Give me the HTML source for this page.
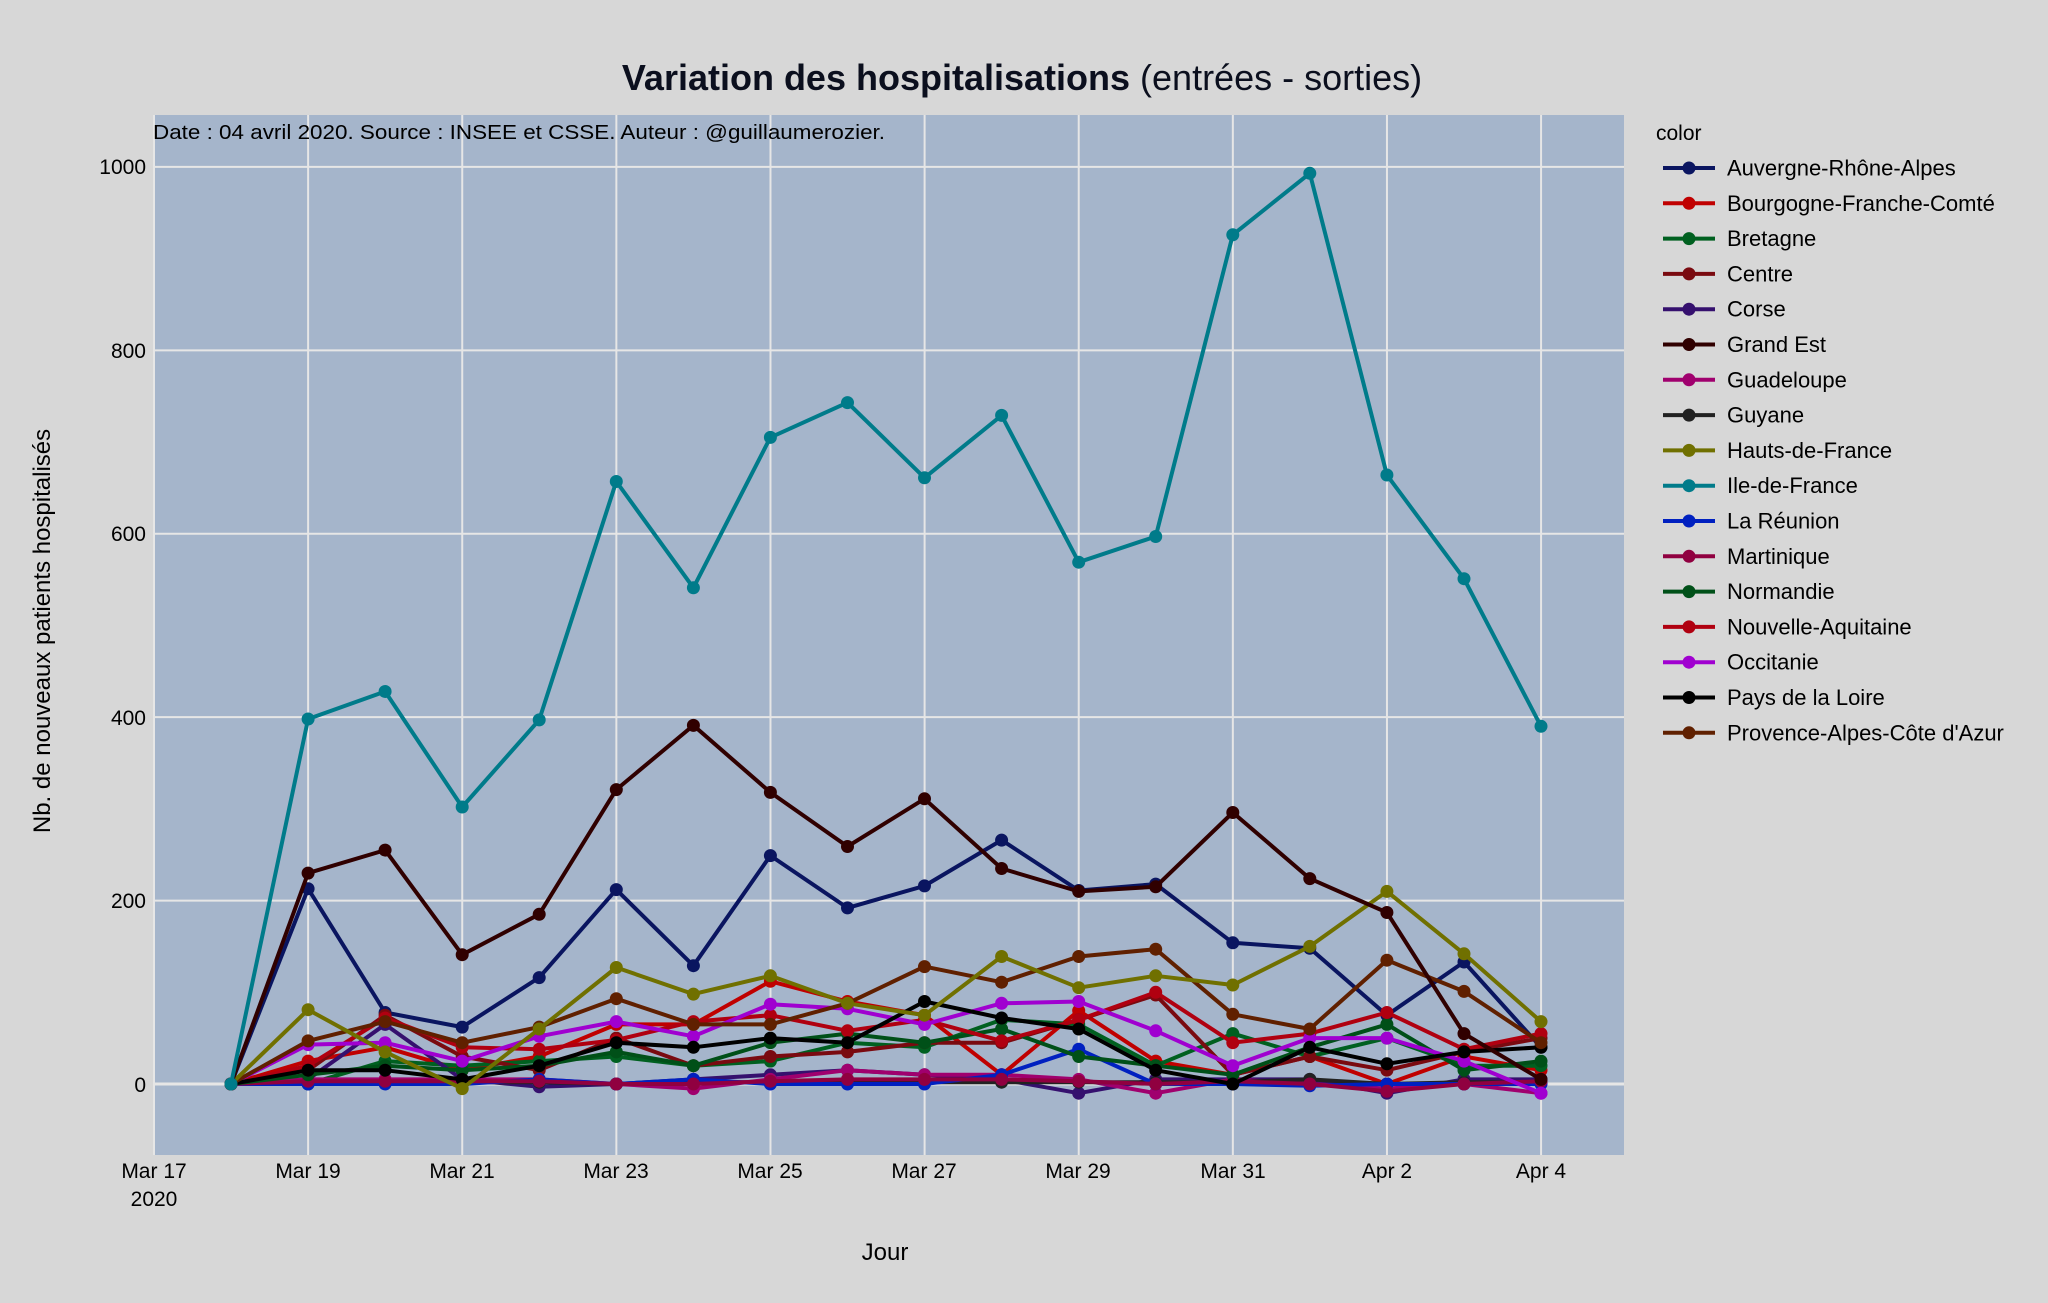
<!DOCTYPE html>
<html><head><meta charset="utf-8"><style>
html,body{margin:0;padding:0;background:#d7d7d7;}
svg{display:block;font-family:"Liberation Sans",sans-serif;}
</style></head><body>
<svg id="s" width="2048" height="1303" viewBox="0 0 2048 1303" xmlns="http://www.w3.org/2000/svg">
<rect width="2048" height="1303" fill="#d7d7d7"/>
<rect x="153" y="115" width="1471" height="1040" fill="#a5b5cb"/>
<g id="grid" stroke="#e6e6e6" stroke-width="2"></g>
<g id="series"></g>
<text x="1022" y="90" text-anchor="middle" font-size="36" fill="#0b0f1e"><tspan font-weight="bold">Variation des hospitalisations</tspan> (entrées - sorties)</text>
<text x="153" y="139" font-size="20" fill="#000" textLength="732" lengthAdjust="spacingAndGlyphs">Date : 04 avril 2020. Source : INSEE et CSSE. Auteur : @guillaumerozier.</text>
<g font-size="21" fill="#000" text-anchor="end">
<text x="146" y="174">1000</text><text x="146" y="358">800</text><text x="146" y="541">600</text><text x="146" y="725">400</text><text x="146" y="908">200</text><text x="146" y="1092">0</text>
</g>
<g font-size="21" fill="#000" text-anchor="middle">
<text x="154" y="1178">Mar 17</text><text x="154" y="1206">2020</text>
<text x="308" y="1178">Mar 19</text><text x="462" y="1178">Mar 21</text><text x="616" y="1178">Mar 23</text>
<text x="770" y="1178">Mar 25</text><text x="924" y="1178">Mar 27</text><text x="1078" y="1178">Mar 29</text>
<text x="1233" y="1178">Mar 31</text><text x="1387" y="1178">Apr 2</text><text x="1541" y="1178">Apr 4</text>
</g>
<text x="885" y="1260" font-size="24" text-anchor="middle" fill="#000">Jour</text>
<text transform="translate(50,631) rotate(-90)" font-size="24" text-anchor="middle" fill="#000">Nb. de nouveaux patients hospitalisés</text>
<text x="1656" y="140" font-size="21" fill="#000">color</text>
<g id="legend" font-size="22" fill="#000"></g>
</svg>
<script>
var X=function(d){return 231+d*77.06}, Y=function(v){return 1084-v*0.9171};
var g=document.getElementById('grid'),h='';
for(var i=0;i<=9;i++){var x=154+i*154.12;h+='<line x1="'+x+'" y1="115" x2="'+x+'" y2="1155"/>';}
for(var v=0;v<=1000;v+=200){h+='<line x1="153" y1="'+Y(v)+'" x2="1624" y2="'+Y(v)+'"'+(v==0?' stroke-width="3"':'')+'/>';}
g.innerHTML=h;
var S=[
["#0a1560",[0,213,78,62,116,212,129,249,192,216,266,211,218,154,148,75,133,40]],
["#c00000",[0,25,40,15,30,65,65,112,90,75,10,80,25,10,30,0,30,15]],
["#006020",[0,0,25,20,25,30,20,25,45,40,70,65,20,55,30,50,20,20]],
["#7a0a10",[0,15,75,30,15,50,20,30,35,45,45,70,97,10,30,15,35,50]],
["#35106e",[0,5,65,5,-3,0,5,10,15,10,5,-10,5,5,5,-10,5,5]],
["#a0006e",[0,5,5,5,5,0,-5,5,15,10,10,5,-10,5,0,-5,0,-10]],
["#222222",[0,2,2,2,2,0,2,2,2,2,2,2,2,2,5,0,2,2]],
["#0020c0",[0,0,0,0,5,0,5,0,0,0,10,38,0,0,-2,0,0,0]],
["#900040",[0,3,3,3,3,0,0,3,5,5,5,3,0,3,0,-8,0,3]],
["#005018",[0,10,20,15,20,35,20,45,55,45,60,30,20,10,40,65,15,25]],
["#b00010",[0,20,72,40,38,48,68,75,58,70,47,70,100,45,55,78,38,55]],
["#a000d0",[0,43,45,25,52,68,52,87,82,65,88,90,58,20,50,50,25,-10]],
["#000000",[0,15,15,5,20,45,40,50,45,90,72,60,15,0,40,22,35,40]],
["#602000",[0,47,68,45,62,93,65,65,88,128,111,139,147,76,60,135,101,45]],
["#707000",[0,81,35,-5,60,127,98,118,88,75,139,105,118,108,150,210,142,68]],
["#300000",[0,230,255,141,185,321,391,318,259,311,235,210,215,296,224,187,55,5]],
["#007b8a",[0,398,428,302,397,657,541,705,743,661,729,569,597,926,993,664,551,390]]
];
var out='';
S.forEach(function(s){var p=s[1].map(function(v,d){return X(d).toFixed(1)+','+Y(v).toFixed(1)}).join(' ');
out+='<polyline points="'+p+'" fill="none" stroke="'+s[0]+'" stroke-width="4" stroke-linejoin="round"/>';
s[1].forEach(function(v,d){out+='<circle cx="'+X(d).toFixed(1)+'" cy="'+Y(v).toFixed(1)+'" r="6.5" fill="'+s[0]+'"/>';});});
document.getElementById('series').innerHTML=out;
var L=[["Auvergne-Rhône-Alpes","#0a1560"],["Bourgogne-Franche-Comté","#c00000"],["Bretagne","#006020"],["Centre","#7a0a10"],["Corse","#35106e"],["Grand Est","#300000"],["Guadeloupe","#a0006e"],["Guyane","#222222"],["Hauts-de-France","#707000"],["Ile-de-France","#007b8a"],["La Réunion","#0020c0"],["Martinique","#900040"],["Normandie","#005018"],["Nouvelle-Aquitaine","#b00010"],["Occitanie","#a000d0"],["Pays de la Loire","#000000"],["Provence-Alpes-Côte d'Azur","#602000"]];
var lg='';
L.forEach(function(l,i){var y=168+i*35.3;
lg+='<line x1="1663" y1="'+y+'" x2="1715" y2="'+y+'" stroke="'+l[1]+'" stroke-width="4"/><circle cx="1689" cy="'+y+'" r="6.5" fill="'+l[1]+'"/><text x="1727" y="'+(y+7.5)+'">'+l[0]+'</text>';});
document.getElementById('legend').innerHTML=lg;
</script>
</body></html>
